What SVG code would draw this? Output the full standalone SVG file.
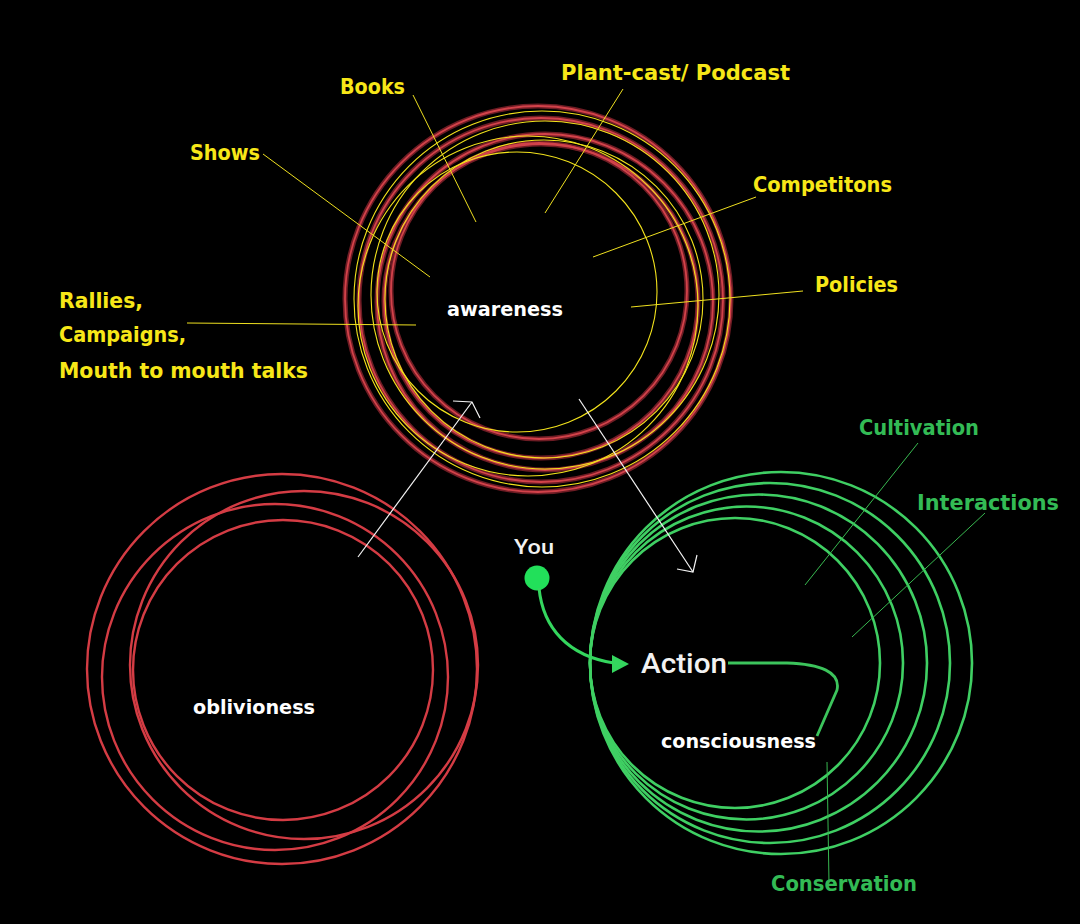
<svg xmlns="http://www.w3.org/2000/svg" width="1080" height="924" viewBox="0 0 1080 924">
<style>
.bg{fill:#000}
.rc{fill:none;stroke:#6e1c24;stroke-width:5}
.rci{fill:none;stroke:#d2424a;stroke-width:1.8}
.yc{fill:none;stroke:#f2e21c;stroke-width:1.1}
.ob{fill:none;stroke:#d43c44;stroke-width:2.4}
.gc{fill:none;stroke:#3fcf63;stroke-width:2.6}
.yl{stroke:#efe020;stroke-width:1;fill:none}
.gl{stroke:#38b850;stroke-width:1;fill:none}
.wl{stroke:#f4f4f4;stroke-width:1.2;fill:none}
.ylab{font-family:"DejaVu Sans",sans-serif;font-weight:bold;font-size:21px;fill:#f7e718}
.glab{font-family:"DejaVu Sans",sans-serif;font-weight:bold;font-size:21px;fill:#33bb55}
.wlab{font-family:"DejaVu Sans",sans-serif;font-weight:bold;font-size:20px;fill:#ffffff}
.sans{font-family:Roboto,"Liberation Sans",sans-serif;fill:#f2f2f2;font-weight:500}
</style>
<rect class="bg" x="0" y="0" width="1080" height="924"/>

<g id="awareness">
  <circle class="rc" cx="538" cy="299" r="193"/>
  <circle class="rc" cx="541" cy="300" r="182"/>
  <circle class="rc" cx="545" cy="302" r="168"/>
  <circle class="rc" cx="541" cy="301" r="157"/>
  <circle class="rc" cx="539" cy="291" r="148"/>
  <circle class="rci" cx="538" cy="299" r="193"/>
  <circle class="rci" cx="541" cy="300" r="182"/>
  <circle class="rci" cx="545" cy="302" r="168"/>
  <circle class="rci" cx="541" cy="301" r="157"/>
  <circle class="rci" cx="539" cy="291" r="148"/>
  <circle class="yc" cx="542" cy="299" r="188"/>
  <circle class="yc" cx="545" cy="295" r="174"/>
  <circle class="yc" cx="544" cy="299" r="159"/>
  <circle class="yc" cx="528" cy="306" r="170"/>
  <circle class="yc" cx="517" cy="292" r="140"/>
  <text class="wlab" x="447" y="316" textLength="116" lengthAdjust="spacingAndGlyphs">awareness</text>
</g>

<g id="oblivioness">
  <circle class="ob" cx="282" cy="669" r="195"/>
  <circle class="ob" cx="275" cy="677" r="173"/>
  <circle class="ob" cx="304" cy="665" r="174"/>
  <circle class="ob" cx="283" cy="670" r="150"/>
  <text class="wlab" x="193" y="714" textLength="122" lengthAdjust="spacingAndGlyphs">oblivioness</text>
</g>

<g id="consciousness">
  <circle class="gc" cx="735" cy="663" r="145"/>
  <circle class="gc" cx="746.5" cy="663" r="156.5"/>
  <circle class="gc" cx="758.5" cy="663" r="168.5"/>
  <circle class="gc" cx="770" cy="663" r="180"/>
  <circle class="gc" cx="781" cy="663" r="191"/>
  <text class="wlab" x="661" y="748" textLength="155" lengthAdjust="spacingAndGlyphs">consciousness</text>
</g>

<g id="you">
  <circle cx="537" cy="578" r="12.5" fill="#22e05a"/>
  <text class="sans" x="514" y="554" font-size="20" textLength="40" lengthAdjust="spacingAndGlyphs">You</text>
</g>

<g id="action">
  <text class="sans" x="641" y="673" font-size="27" textLength="86" lengthAdjust="spacingAndGlyphs">Action</text>
</g>

<g id="labels">
  <text class="ylab" x="340" y="94" textLength="65" lengthAdjust="spacingAndGlyphs">Books</text>
  <text class="ylab" x="561" y="80" textLength="229" lengthAdjust="spacingAndGlyphs">Plant-cast/ Podcast</text>
  <text class="ylab" x="190" y="160" textLength="70" lengthAdjust="spacingAndGlyphs">Shows</text>
  <text class="ylab" x="753" y="192" textLength="139" lengthAdjust="spacingAndGlyphs">Competitons</text>
  <text class="ylab" x="815" y="292" textLength="83" lengthAdjust="spacingAndGlyphs">Policies</text>
  <text class="ylab" x="59" y="308" textLength="84" lengthAdjust="spacingAndGlyphs">Rallies,</text>
  <text class="ylab" x="59" y="342" textLength="127" lengthAdjust="spacingAndGlyphs">Campaigns,</text>
  <text class="ylab" x="59" y="378" textLength="249" lengthAdjust="spacingAndGlyphs">Mouth to mouth talks</text>
  <text class="glab" x="859" y="435" textLength="120" lengthAdjust="spacingAndGlyphs">Cultivation</text>
  <text class="glab" x="917" y="510" textLength="142" lengthAdjust="spacingAndGlyphs">Interactions</text>
  <text class="glab" x="771" y="891" textLength="146" lengthAdjust="spacingAndGlyphs">Conservation</text>
</g>

<g id="connectors">
  <line class="yl" x1="263" y1="154" x2="430" y2="277"/>
  <line class="yl" x1="413" y1="95" x2="476" y2="222"/>
  <line class="yl" x1="187" y1="323" x2="416" y2="325"/>
  <line class="yl" x1="623" y1="89" x2="545" y2="213"/>
  <line class="yl" x1="756" y1="197" x2="593" y2="257"/>
  <line class="yl" x1="803" y1="291" x2="631" y2="307"/>
  <line class="gl" x1="918" y1="443" x2="805" y2="585"/>
  <line class="gl" x1="985" y1="513" x2="852" y2="637"/>
  <line class="gl" x1="827" y1="762" x2="829" y2="883"/>
  <line class="wl" x1="358" y1="557" x2="472" y2="402"/>
  <polyline class="wl" points="453,401 472,402 480,418"/>
  <line class="wl" x1="579" y1="399" x2="693" y2="572"/>
  <polyline class="wl" points="677,569 693,572 697,555"/>
  <path d="M539 588 C543 628 568 656 614 663" fill="none" stroke="#34d65e" stroke-width="3"/>
  <polygon points="629,664 612,655 612,673" fill="#34d65e"/>
  <path d="M728 663 L787 663 C820 664 841 672 837 690 L817 736" fill="none" stroke="#3cc45c" stroke-width="2.8"/>
</g>
</svg>
